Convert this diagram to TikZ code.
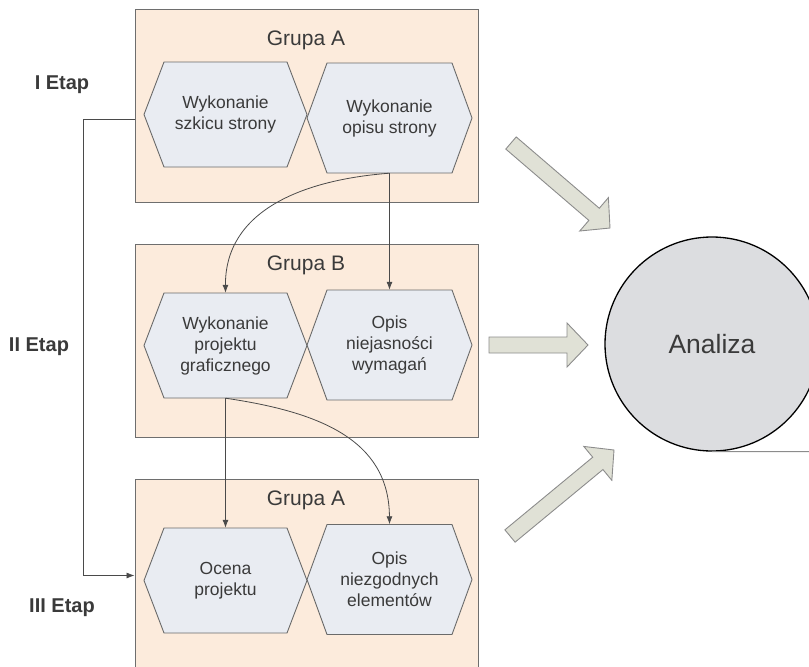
\documentclass[tikz,border=0pt]{standalone}
\usepackage{fontspec}
\setmainfont{Liberation Sans}
\usetikzlibrary{calc,arrows.meta}

\definecolor{boxfill}{HTML}{FCEBDC}
\definecolor{boxline}{HTML}{6E6E6E}
\definecolor{hexfill}{HTML}{E9ECF2}
\definecolor{hexline}{HTML}{6A6A6A}
\definecolor{txt}{HTML}{3A3A3A}
\definecolor{barrowfill}{HTML}{E0E1D6}
\definecolor{barrowline}{HTML}{8C8C8C}
\definecolor{circfill}{HTML}{DCDDE0}
\definecolor{connline}{HTML}{4A4A4A}

\tikzset{
  groupbox/.style={draw=boxline, fill=boxfill, line width=0.9pt, rectangle, inner sep=0pt,
    minimum width=343, minimum height=193},
  hexshape/.style={draw=hexline, fill=hexfill, line width=0.9pt},
  hextext/.style={text=txt, align=center, font=\fontsize{17.5}{21}\selectfont, inner sep=0pt},
  grouptitle/.style={text=txt, font=\fontsize{21}{24}\selectfont},
  stagelabel/.style={text=txt, font=\bfseries\fontsize{20}{24}\selectfont},
  conn/.style={draw=connline, line width=0.8pt, -{Latex[length=8pt,width=6pt]}},
  blockarrow/.style={draw=barrowline, fill=barrowfill, line width=0.9pt, line join=miter},
}

% hexagon: name, centre x, centre y, width, height, text
\newcommand\hexa[6]{%
  \filldraw[hexshape] ({#2-#4/2},#3) -- ({#2-#4/2+20},{#3-#5/2}) -- ({#2+#4/2-20},{#3-#5/2})
    -- ({#2+#4/2},#3) -- ({#2+#4/2-20},{#3+#5/2}) -- ({#2-#4/2+20},{#3+#5/2}) -- cycle;
  \node[hextext, minimum width=#4, minimum height=#5] (#1) at (#2,#3) {#6};
}

% wide block arrow from tail coordinate #1 to tip coordinate #2
\newcommand\blockarr[2]{%
  \coordinate (#1m) at ($(#2)!21pt!(#1)$);
  \filldraw[blockarrow] ($(#1)!8pt!90:(#2)$) -- ($(#1m)!8pt!-90:(#1)$) -- ($(#1m)!22pt!-90:(#1)$)
    -- (#2) -- ($(#1m)!22pt!90:(#1)$) -- ($(#1m)!8pt!90:(#1)$) -- ($(#1)!8pt!-90:(#2)$) -- cycle;
}

\begin{document}
\begin{tikzpicture}[x=1pt, y=-1pt]
  \path[use as bounding box] (0,0) rectangle (809,667);
  \clip (0,0) rectangle (809,667);

  % group boxes
  \node[groupbox] (g1) at (306.5,105.5) {};
  \node[groupbox] (g2) at (306.5,340.5) {};
  \node[groupbox] (g3) at (306.5,575.5) {};
  \node[grouptitle] (t1) at (306,40) {Grupa A};
  \node[grouptitle] (t2) at (306,265) {Grupa B};
  \node[grouptitle] (t3) at (306,500) {Grupa A};

  % tasks
  \hexa{h11}{225.5}{114.5}{163}{105}{Wykonanie\\szkicu strony}
  \hexa{h12}{389.5}{118}{165}{110}{Wykonanie\\opisu strony}
  \hexa{h21}{225.5}{345.5}{163}{105}{Wykonanie\\projektu\\graficznego}
  \hexa{h22}{389.5}{345}{165}{110}{Opis\\niejasności\\wymagań}
  \hexa{h31}{225.5}{580.5}{163}{105}{Ocena\\projektu}
  \hexa{h32}{389.5}{579.5}{165}{110}{Opis\\niezgodnych\\elementów}

  % flow between tasks
  \draw[conn] (h12.south) -- (h22.north);
  \draw[conn] (h12.south) .. controls (300,180) and (225,212) .. (h21.north);
  \draw[conn] (h21.south) -- (h31.north);
  \draw[conn] (h21.south) .. controls (320,412) and (389,440) .. (h32.north);

  % stage bracket
  \draw[conn] ([yshift=-13.5pt]g1.west) -- ++(-51,0) |- (g3.west);

  % stage labels
  \node[stagelabel] (e1) at (62,85) {I Etap};
  \node[stagelabel] (e2) at (39,347) {II Etap};
  \node[stagelabel] (e3) at (62,608) {III Etap};

  % analysis
  \node[circle, draw=black, fill=circfill, line width=1.3pt, minimum size=214, inner sep=0pt,
        text=txt, font=\fontsize{26.5}{30}\selectfont] (an) at (712,344) {Analiza};
  \coordinate (edge) at (809,451.5);
  \draw[draw=barrowline, line width=1pt] (an.south) -- (edge);

  % block arrows into the analysis
  \coordinate (a1t) at (511,143);  \coordinate (a1h) at (610,228);
  \coordinate (a2t) at (489,345);  \coordinate (a2h) at (588,345);
  \coordinate (a3t) at (510,536);  \coordinate (a3h) at (614,450);
  \blockarr{a1t}{a1h}
  \blockarr{a2t}{a2h}
  \blockarr{a3t}{a3h}
\end{tikzpicture}
\end{document}
